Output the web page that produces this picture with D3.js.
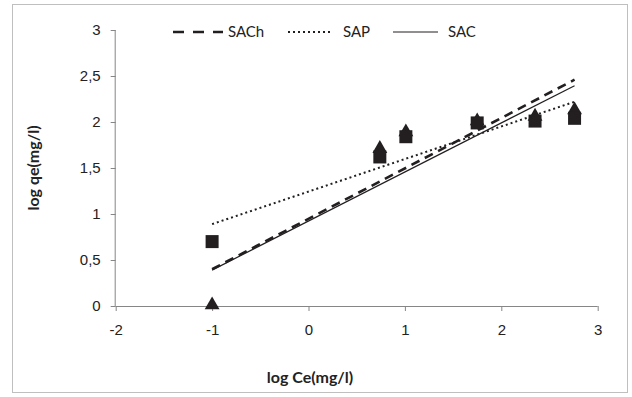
<!DOCTYPE html>
<html>
<head>
<meta charset="utf-8">
<script src="https://cdn.jsdelivr.net/npm/d3@7"></script>
<style>
  body { margin: 0; background: #fff; }
  svg { font-family: Lato, 'Open Sans', sans-serif; }
</style>
</head>
<body>
<div id="chart"></div>
<script>
// log Ce values of the measured points
const logCe = [-1, 0.74, 1.01, 1.75, 2.35, 2.76];
// square markers
const squareVals = [0.70, 1.62, 1.84, 1.99, 2.01, 2.04];
// triangle markers
const triangleVals = [0.0, 1.70, 1.88, 2.00, 2.05, 2.12];

// trend lines, start / end
const trendX = [-1, 2.76];
const sachLine = [0.40, 2.46];
const sapLine = [0.89, 2.22];
const sacLine = [0.39, 2.395];

const seriesNames = ['SACh', 'SAP', 'SAC'];
const xTicks = [-2, -1, 0, 1, 2, 3];
const yTicks = [0, 0.5, 1, 1.5, 2, 2.5, 3];

const width = 632, height = 397;
const ink = '#231f20';
const axisGrey = '#868686';

const svg = d3.select('#chart').append('svg')
  .attr('width', width)
  .attr('height', height);

// outer frame
svg.append('rect')
  .attr('x', 12.5).attr('y', 4.5)
  .attr('width', 615).attr('height', 388)
  .attr('fill', 'none')
  .attr('stroke', '#bfbfbf');

const x = d3.scaleLinear().domain([-2, 3]).range([115.7, 597.7]);
const y = d3.scaleLinear().domain([0, 3]).range([306, 30]);

// axes
const yAxis = svg.append('g')
  .attr('transform', `translate(${x(-2)},0)`)
  .call(d3.axisLeft(y).tickValues(yTicks).tickSize(5).tickPadding(10)
    .tickFormat(d => String(d).replace('.', ',')));

const xAxis = svg.append('g')
  .attr('transform', `translate(0,${y(0)})`)
  .call(d3.axisBottom(x).tickValues(xTicks).tickSize(5).tickPadding(13)
    .tickFormat(d => String(d)));

[xAxis, yAxis].forEach(a => {
  a.selectAll('.tick line').attr('stroke', axisGrey);
  a.selectAll('.tick text')
    .attr('fill', '#222')
    .style('font-size', '15px');
});
// domain lines without end caps
xAxis.select('.domain').attr('stroke', axisGrey).attr('d', `M${x(-2)},0.5H${x(3)}`);
yAxis.select('.domain').attr('stroke', axisGrey).attr('d', `M-0.5,${y(3)}V${y(0)}`);

// axis titles
svg.append('text')
  .attr('transform', `translate(39,${(y(0) + y(3)) / 2}) rotate(-90)`)
  .attr('text-anchor', 'middle')
  .style('font-size', '16px')
  .style('font-weight', 'bold')
  .attr('fill', '#222')
  .text('log qe(mg/l)');

svg.append('text')
  .attr('x', 310).attr('y', 383)
  .attr('text-anchor', 'middle')
  .style('font-size', '16px')
  .style('font-weight', 'bold')
  .attr('fill', '#222')
  .text('log Ce(mg/l)');

// markers
const triPath = d3.symbol().type(d3.symbolTriangle).size(95);
svg.append('g').selectAll('path')
  .data(logCe.map((c, i) => [c, triangleVals[i]]))
  .join('path')
  .attr('d', triPath)
  .attr('transform', d => `translate(${x(d[0])},${y(d[1]) - 1})`)
  .attr('fill', ink);

svg.append('g').selectAll('rect')
  .data(logCe.map((c, i) => [c, squareVals[i]]))
  .join('rect')
  .attr('x', d => x(d[0]) - 6.5)
  .attr('y', d => y(d[1]) - 6.5)
  .attr('width', 13).attr('height', 13)
  .attr('fill', ink);

// trend lines
const lineStyles = {
  SACh: { w: 2.6, dash: '9,6' },
  SAP: { w: 2, dash: '2,3' },
  SAC: { w: 1.2, dash: null }
};
const trendData = [sachLine, sapLine, sacLine];
const line = d3.line().x(d => x(d[0])).y(d => y(d[1]));

seriesNames.forEach((name, i) => {
  svg.append('path')
    .datum(trendX.map((c, j) => [c, trendData[i][j]]))
    .attr('d', line)
    .attr('fill', 'none')
    .attr('stroke', ink)
    .attr('stroke-width', lineStyles[name].w)
    .attr('stroke-dasharray', lineStyles[name].dash);
});

// legend
const legendX = [173, 288, 393];
const legendText = [228, 343, 448];
const legendW = [50, 44, 45];
const legend = svg.append('g');
seriesNames.forEach((name, i) => {
  legend.append('line')
    .attr('x1', legendX[i]).attr('x2', legendX[i] + legendW[i])
    .attr('y1', 32).attr('y2', 32)
    .attr('stroke', ink)
    .attr('stroke-width', lineStyles[name].w)
    .attr('stroke-dasharray', name === 'SACh' ? '11,9' : lineStyles[name].dash);
  legend.append('text')
    .attr('x', legendText[i]).attr('y', 37)
    .style('font-size', '15px')
    .attr('fill', '#222')
    .text(name);
});
</script>
</body>
</html>
